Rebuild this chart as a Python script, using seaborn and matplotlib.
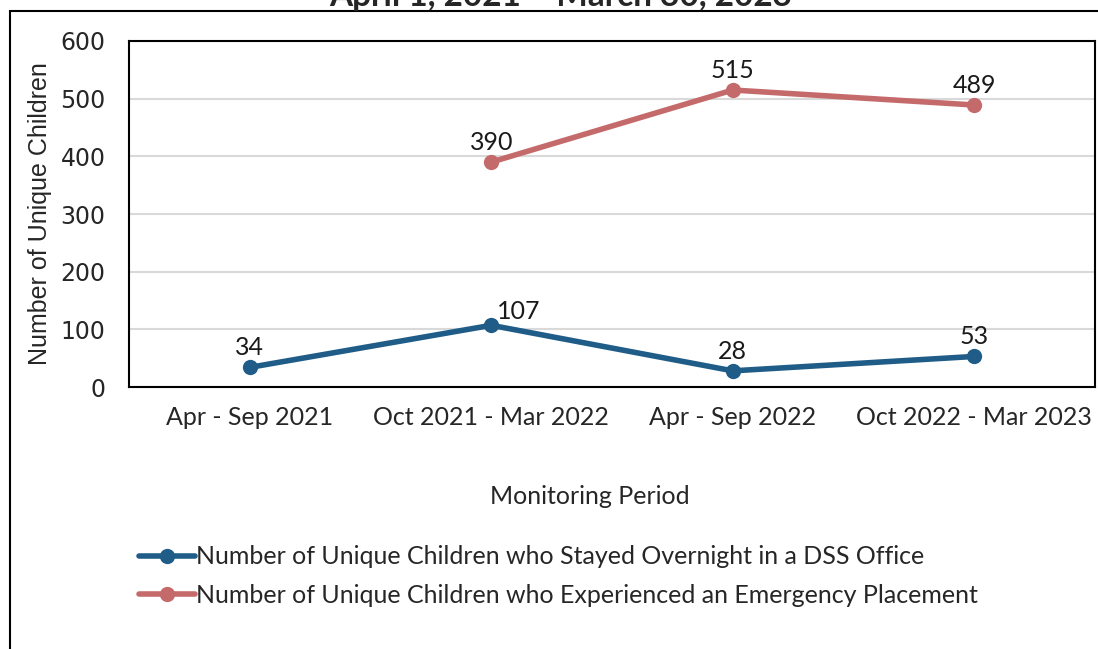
import numpy as np
import pandas as pd
import matplotlib.pyplot as plt
import matplotlib.patches as mpatches
import seaborn as sns

sns.set_theme(style="white")
plt.rcParams['font.family'] = ['Lato', 'DejaVu Sans']

# Data
periods = ['Apr - Sep 2021', 'Oct 2021 - Mar 2022', 'Apr - Sep 2022', 'Oct 2022 - Mar 2023']
overnight = [34, 107, 28, 53]
emergency = [np.nan, 390, 515, 489]
series_names = ['Number of Unique Children who Stayed Overnight in a DSS Office',
                'Number of Unique Children who Experienced an Emergency Placement']
colors = ['#1F5C88', '#C56A6B']

df = pd.DataFrame({
    'period': periods * 2,
    'value': overnight + emergency,
    'series': [series_names[0]] * 4 + [series_names[1]] * 4,
})
df['pos'] = df.groupby('series').cumcount()

fig = plt.figure(figsize=(10.98, 6.49), dpi=100)
ax = fig.add_axes([129 / 1098, 1 - 387 / 649, (1095 - 129) / 1098, (387 - 41) / 649])

sns.lineplot(data=df.dropna(), x='pos', y='value', hue='series', palette=colors,
             marker='o', markersize=11, markeredgewidth=0, linewidth=4, ax=ax,
             legend=True)

ax.set_xlim(-0.5, 3.5)
ax.set_ylim(0, 600)
ax.set_xticks(range(len(periods)))
ax.set_xticklabels(periods, fontsize=18)
ax.set_yticks(range(0, 601, 100))
ax.set_yticklabels([str(v) for v in range(0, 601, 100)], fontsize=17,
                   family=['DejaVu Sans'])
ax.tick_params(axis='x', pad=14, length=0)
ax.tick_params(axis='y', pad=17, length=0)
ax.yaxis.grid(True, color='#D9D9D9', linewidth=1.5)
ax.set_axisbelow(True)
for s in ax.spines.values():
    s.set_visible(True)
    s.set_color('black')
    s.set_linewidth(1.5)

ax.set_xlabel('Monitoring Period', fontsize=18)
ax.xaxis.set_label_coords(0.477, -0.282)
ax.set_ylabel('Number of Unique Children', fontsize=18, family=['Liberation Sans'],
              labelpad=6)

# data labels
offsets = {(0, 1): (20, 2)}
for i, (name, vals) in enumerate(zip(series_names, [overnight, emergency])):
    for j, v in enumerate(vals):
        if np.isnan(v):
            continue
        dx, dy = offsets.get((i, j), (0, 6))
        ax.annotate(f'{int(v)}', (j, v), xytext=(dx, dy), textcoords='offset points',
                    ha='center', va='bottom', fontsize=18, color='#1A1A1A')

# legend
handles, labels = ax.get_legend_handles_labels()
ax.get_legend().remove()
fig.legend(handles, labels, loc='upper left', bbox_to_anchor=(126 / 1098, 1 - 533 / 649),
           frameon=False, fontsize=18, handlelength=2.25, handletextpad=0.05,
           labelspacing=0.62, borderpad=0)

# outer chart border (partly cropped) and cut-off title
fig.patches.append(mpatches.Rectangle((10 / 1098, -0.1), 1.2, 1.1 - 11 / 649,
                                      transform=fig.transFigure, fill=False,
                                      edgecolor='black', linewidth=1.5))
fig.text(561 / 1098, 1 - 6 / 649, 'April 1, 2021 – March 30, 2023', ha='center',
         va='baseline', fontsize=24, fontweight='bold')

fig.savefig('out.png', dpi=100)
